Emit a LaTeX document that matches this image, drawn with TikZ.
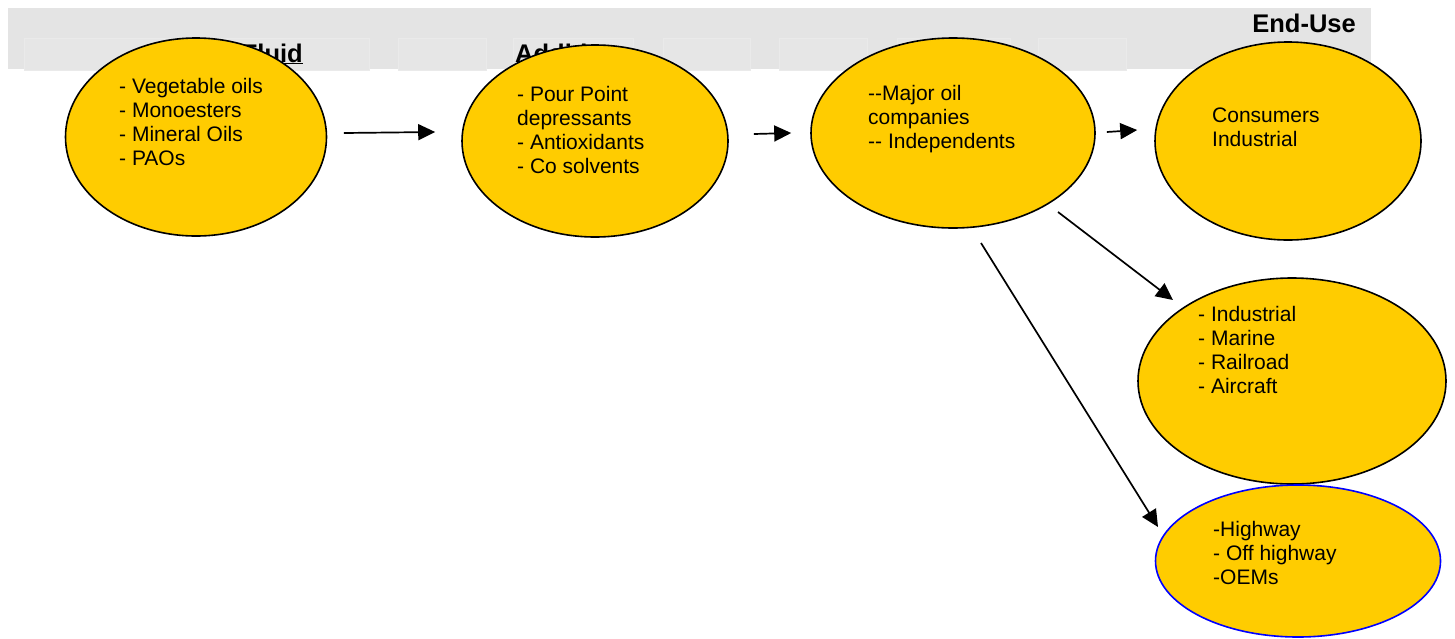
\documentclass[tikz,border=0pt]{standalone}
\usepackage{fontspec}
\setmainfont{Liberation Sans}
\usetikzlibrary{shapes.geometric,arrows.meta}
\definecolor{bandc}{RGB}{228,228,228}
\definecolor{cellc}{RGB}{230,230,230}
\definecolor{celll}{RGB}{234,234,234}
\definecolor{ovalc}{RGB}{255,204,0}
\begin{document}
\begin{tikzpicture}[x=1pt,y=-1pt,
  oval/.style={ellipse, draw=black, line width=1.6pt, fill=ovalc, inner sep=0pt},
  lbl/.style={anchor=base west, inner sep=0pt, font=\fontsize{21}{24.2}\selectfont},
  hdr/.style={inner sep=0pt, font=\fontsize{25.5}{28}\selectfont\bfseries},
  cell/.style={fill=cellc, draw=celll, line width=0.6pt},
  arr/.style={line width=1.7pt, -{Triangle[length=17pt,width=16pt]}}]
\useasboundingbox (0,0) rectangle (1455,638);
% header band
\fill[bandc] (8,8) rectangle (1371,69);
\foreach \a/\b in {24/369,398/486,513/633,663/750,779/867,897/1010,1038/1126}
  \draw[cell] (\a,38) rectangle (\b,70);
\node[hdr, anchor=base east] (h1) at (303,62) {\underline{Base Fluid}};
\node[hdr, anchor=base west] (h2) at (515,62) {Additives};
\node[hdr, anchor=base west] (h3) at (897,62) {Blenders};
\node[hdr, anchor=base east] (h4) at (1356,32) {End-Use};
% ovals
\node[oval, minimum width=261pt, minimum height=198pt] (e1) at (196,137) {};
\node[oval, minimum width=266pt, minimum height=192pt] (e2) at (595,141) {};
\node[oval, minimum width=284pt, minimum height=190pt] (e3) at (953,133) {};
\node[oval, minimum width=266pt, minimum height=198pt] (e4) at (1288,141) {};
\node[oval, minimum width=308pt, minimum height=206pt] (e5) at (1292,381) {};
\node[oval, draw=blue, minimum width=285pt, minimum height=152pt] (e6) at (1298,561) {};
% texts
\node[lbl] (t1) at (119,93) {\begin{tabular}[t]{@{}l@{}}- Vegetable oils\\- Monoesters\\- Mineral Oils\\- PAOs\end{tabular}};
\node[lbl] (t2) at (517,101) {\begin{tabular}[t]{@{}l@{}}- Pour Point\\depressants\\- Antioxidants\\- Co solvents\end{tabular}};
\node[lbl] (t3) at (868,100) {\begin{tabular}[t]{@{}l@{}}-{}-Major oil\\companies\\-{}- Independents\end{tabular}};
\node[lbl] (t4) at (1212,122) {\begin{tabular}[t]{@{}l@{}}Consumers\\Industrial\end{tabular}};
\node[lbl] (t5) at (1198,321) {\begin{tabular}[t]{@{}l@{}}- Industrial\\- Marine\\- Railroad\\- Aircraft\end{tabular}};
\node[lbl] (t6) at (1213,536) {\begin{tabular}[t]{@{}l@{}}-Highway\\- Off highway\\-OEMs\end{tabular}};
% arrows
\draw[arr] ([shift={(16.5,-4)}]e1.east) -- ([shift={(-26,-9)}]e2.west);
\draw[arr] ([shift={(25,-7)}]e2.east) -- ([shift={(-19,0)}]e3.west);
\draw[arr] ([shift={(11,-1)}]e3.east) -- ([shift={(-17,-11)}]e4.west);
\draw[arr] ([shift={(105,79)}]e3.center) -- ([shift={(-119,-81)}]e5.center);
\draw[arr] ([shift={(28,110)}]e3.center) -- ([shift={(-140,-34)}]e6.center);
\end{tikzpicture}
\end{document}
